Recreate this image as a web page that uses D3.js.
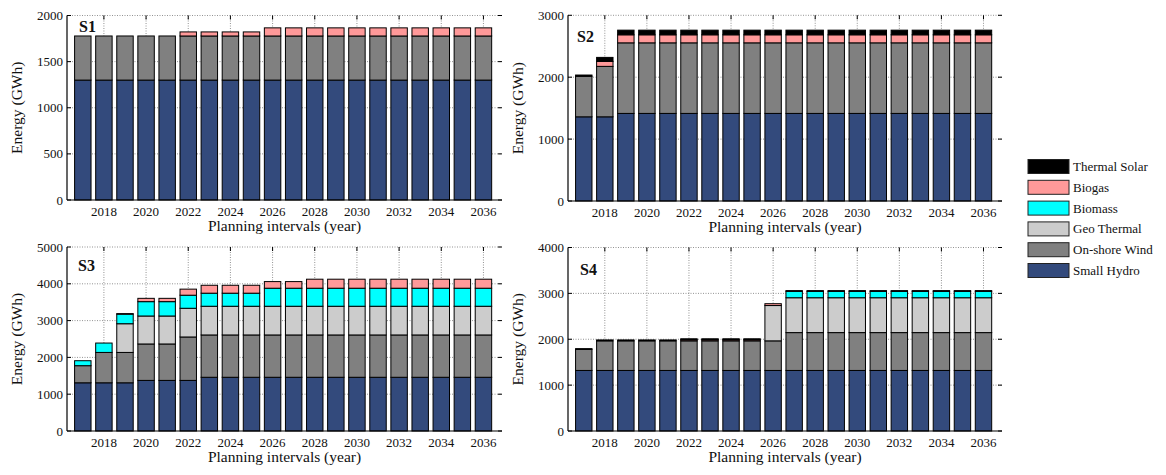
<!DOCTYPE html>
<html>
<head>
<meta charset="utf-8">
<script src="https://cdn.jsdelivr.net/npm/d3@7"></script>
<style>
body { margin: 0; background: #fff; }
text { font-family: "Liberation Serif", "Times New Roman", serif; fill: #111; }
</style>
</head>
<body>
<div class="chart"></div>
<script>
var years = [2017,2018,2019,2020,2021,2022,2023,2024,2025,2026,2027,2028,2029,2030,2031,2032,2033,2034,2035,2036];
var xTicks = [2018,2020,2022,2024,2026,2028,2030,2032,2034,2036];
var techs = ['Small Hydro','On-shore Wind','Geo Thermal','Biomass','Biogas','Thermal Solar'];
var colors = ['#334a7c','#808080','#cccccc','#00ffff','#ff9999','#000000'];

// S1
var s1Hydro   = [1300,1300,1300,1300,1300,1300,1300,1300,1300,1300,1300,1300,1300,1300,1300,1300,1300,1300,1300,1300];
var s1Wind    = [478,478,478,478,478,478,478,478,478,478,478,478,478,478,478,478,478,478,478,478];
var s1Geo     = [0,0,0,0,0,0,0,0,0,0,0,0,0,0,0,0,0,0,0,0];
var s1Biomass = [0,0,0,0,0,0,0,0,0,0,0,0,0,0,0,0,0,0,0,0];
var s1Biogas  = [0,0,0,0,0,44,44,44,44,88,88,88,88,88,88,88,88,88,88,88];
var s1Solar   = [0,0,0,0,0,0,0,0,0,0,0,0,0,0,0,0,0,0,0,0];
// S2
var s2Hydro   = [1360,1360,1415,1415,1415,1415,1415,1415,1415,1415,1415,1415,1415,1415,1415,1415,1415,1415,1415,1415];
var s2Wind    = [655,815,1140,1140,1140,1140,1140,1140,1140,1140,1140,1140,1140,1140,1140,1140,1140,1140,1140,1140];
var s2Geo     = [0,0,0,0,0,0,0,0,0,0,0,0,0,0,0,0,0,0,0,0];
var s2Biomass = [0,0,0,0,0,0,0,0,0,0,0,0,0,0,0,0,0,0,0,0];
var s2Biogas  = [0,80,130,130,130,130,130,130,130,130,130,130,130,130,130,130,130,130,130,130];
var s2Solar   = [20,65,75,75,75,75,75,75,75,75,75,75,75,75,75,75,75,75,75,75];
// S3
var s3Hydro   = [1310,1310,1310,1375,1375,1375,1460,1460,1460,1460,1460,1460,1460,1460,1460,1460,1460,1460,1460,1460];
var s3Wind    = [465,825,825,990,990,1180,1150,1150,1150,1150,1150,1150,1150,1150,1150,1150,1150,1150,1150,1150];
var s3Geo     = [0,0,780,760,760,780,780,780,780,780,780,780,780,780,780,780,780,780,780,780];
var s3Biomass = [135,255,260,390,390,355,355,355,355,490,490,490,490,490,490,490,490,490,490,490];
var s3Biogas  = [0,0,15,90,90,165,215,215,215,180,180,245,245,245,245,245,245,245,245,245];
var s3Solar   = [0,0,0,0,0,0,0,0,0,0,0,0,0,0,0,0,0,0,0,0];
// S4
var s4Hydro   = [1320,1320,1320,1320,1320,1320,1320,1320,1320,1320,1320,1320,1320,1320,1320,1320,1320,1320,1320,1320];
var s4Wind    = [460,645,645,645,645,645,645,645,645,645,825,825,825,825,825,825,825,825,825,825];
var s4Geo     = [0,0,0,0,0,0,0,0,0,770,760,760,760,760,760,760,760,760,760,760];
var s4Biomass = [0,0,0,0,0,0,0,0,0,0,140,140,140,140,140,140,140,140,140,140];
var s4Biogas  = [0,0,0,0,0,25,25,25,25,40,0,0,0,0,0,0,0,0,0,0];
var s4Solar   = [15,20,20,20,20,20,20,20,20,0,15,15,15,15,15,15,15,15,15,15];

var panels = [
	{name:'S1', series:[s1Hydro,s1Wind,s1Geo,s1Biomass,s1Biogas,s1Solar], yMax:2000, yStep:500, box:[67,502,15.5,200], lab:[79,32]},
	{name:'S2', series:[s2Hydro,s2Wind,s2Geo,s2Biomass,s2Biogas,s2Solar], yMax:3000, yStep:1000, box:[568,1002,15.3,201], lab:[577,42]},
	{name:'S3', series:[s3Hydro,s3Wind,s3Geo,s3Biomass,s3Biogas,s3Solar], yMax:5000, yStep:1000, box:[67,502,247,431], lab:[78,271]},
	{name:'S4', series:[s4Hydro,s4Wind,s4Geo,s4Biomass,s4Biogas,s4Solar], yMax:4000, yStep:1000, box:[568,1002,247.5,431], lab:[580,275]}
];

var svg = d3.select('.chart')
	.append('svg')
	.attr('width', 1166)
	.attr('height', 475);

panels.forEach(function (p) {
	var l = p.box[0], r = p.box[1], t = p.box[2], b = p.box[3];
	var x = d3.scaleLinear().domain([2016.25, 2036.88]).range([l, r]);
	var y = d3.scaleLinear().domain([0, p.yMax]).range([b, t]);
	var yTicks = d3.range(0, p.yMax + 1, p.yStep);
	var g = svg.append('g');

	// grid
	g.selectAll('.hg').data(yTicks.slice(1)).enter().append('line')
		.attr('x1', l).attr('x2', r)
		.attr('y1', function (d) { return y(d); }).attr('y2', function (d) { return y(d); })
		.style('stroke', '#777').style('stroke-width', 0.8).style('stroke-dasharray', '1,1.5');
	g.selectAll('.vg').data(xTicks).enter().append('line')
		.attr('x1', function (d) { return x(d); }).attr('x2', function (d) { return x(d); })
		.attr('y1', t).attr('y2', b)
		.style('stroke', '#777').style('stroke-width', 0.8).style('stroke-dasharray', '1,1.5');

	// stacked bars
	var rows = years.map(function (yr, i) {
		var o = {year: yr};
		techs.forEach(function (k, j) { o[k] = p.series[j][i]; });
		return o;
	});
	var stacked = d3.stack().keys(techs)(rows);
	var bw = 0.39;
	stacked.forEach(function (layer, j) {
		g.selectAll('.s' + j).data(layer.filter(function (d) { return d[1] - d[0] > 0; }))
			.enter().append('rect')
			.attr('x', function (d) { return x(d.data.year - bw); })
			.attr('width', function (d) { return x(d.data.year + bw) - x(d.data.year - bw); })
			.attr('y', function (d) { return y(d[1]); })
			.attr('height', function (d) { return y(d[0]) - y(d[1]); })
			.style('fill', colors[j])
			.style('stroke', '#000')
			.style('stroke-width', 1);
	});

	// axes lines
	g.append('line').attr('x1', l).attr('x2', r).attr('y1', b).attr('y2', b)
		.style('stroke', '#000').style('stroke-width', 1.2);
	g.append('line').attr('x1', l).attr('x2', l).attr('y1', t).attr('y2', b)
		.style('stroke', '#000').style('stroke-width', 1.2);

	// tick marks
	g.selectAll('.yt').data(yTicks).enter().append('line')
		.attr('x1', l).attr('x2', l + 4)
		.attr('y1', function (d) { return y(d); }).attr('y2', function (d) { return y(d); })
		.style('stroke', '#000');
	g.selectAll('.yr').data(yTicks).enter().append('line')
		.attr('x1', r - 4).attr('x2', r)
		.attr('y1', function (d) { return y(d); }).attr('y2', function (d) { return y(d); })
		.style('stroke', '#000');
	g.selectAll('.xt').data(xTicks).enter().append('line')
		.attr('x1', function (d) { return x(d); }).attr('x2', function (d) { return x(d); })
		.attr('y1', t).attr('y2', t + 4)
		.style('stroke', '#000');

	// tick labels
	g.selectAll('.yl').data(yTicks).enter().append('text')
		.attr('x', l - 4)
		.attr('y', function (d) { return y(d) + 4.5; })
		.style('font-size', '13px')
		.style('text-anchor', 'end')
		.text(function (d) { return d; });
	g.selectAll('.xl').data(xTicks).enter().append('text')
		.attr('x', function (d) { return x(d); })
		.attr('y', b + 16)
		.style('font-size', '13px')
		.style('text-anchor', 'middle')
		.text(function (d) { return d; });

	// axis titles
	g.append('text')
		.attr('x', (l + r) / 2)
		.attr('y', b + 31)
		.style('font-size', '15.5px')
		.style('text-anchor', 'middle')
		.text('Planning intervals (year)');
	g.append('text')
		.attr('transform', 'translate(' + (l - 45) + ',' + ((t + b) / 2) + ') rotate(-90)')
		.style('font-size', '15.5px')
		.style('text-anchor', 'middle')
		.text('Energy (GWh)');

	g.append('text')
		.attr('x', p.lab[0]).attr('y', p.lab[1])
		.style('font-size', '16px')
		.style('font-weight', 'bold')
		.text(p.name);
});

// legend
var legendItems = techs.slice().reverse();
var legendColors = colors.slice().reverse();
var lg = svg.append('g');
lg.selectAll('rect').data(legendItems).enter().append('rect')
	.attr('x', 1028)
	.attr('y', function (d, i) { return 159.5 + i * 20.8; })
	.attr('width', 41)
	.attr('height', 14)
	.style('fill', function (d, i) { return legendColors[i]; })
	.style('stroke', '#222');
lg.selectAll('text').data(legendItems).enter().append('text')
	.attr('x', 1073)
	.attr('y', function (d, i) { return 171 + i * 20.8; })
	.style('font-size', '13px')
	.text(function (d) { return d; });
</script>
</body>
</html>
